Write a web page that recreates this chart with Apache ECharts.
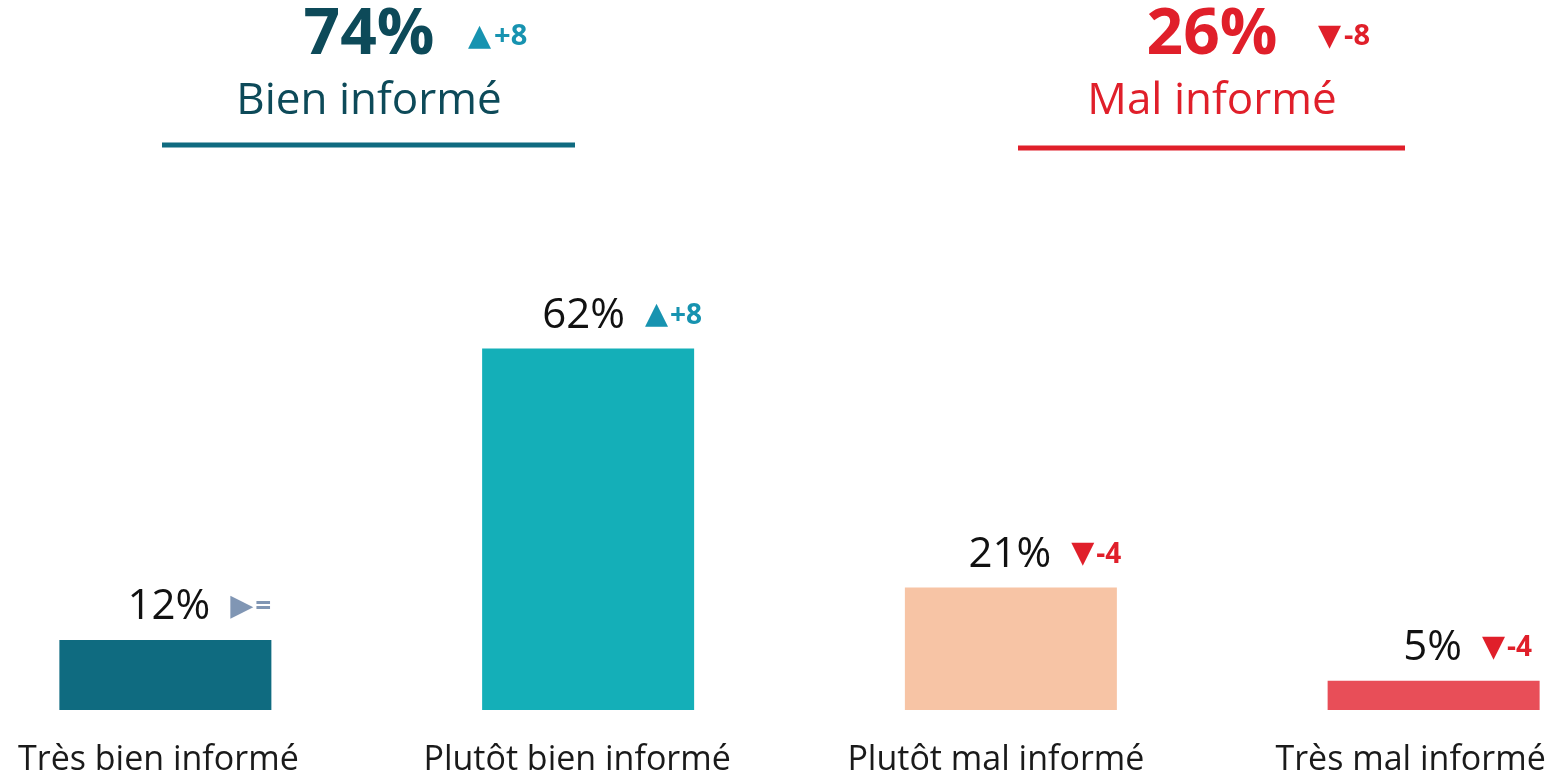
<!DOCTYPE html>
<html>
<head>
<meta charset="utf-8">
<title>Information</title>
<script src="https://cdn.jsdelivr.net/npm/echarts@6/dist/echarts.min.js"></script>
<style>
    html, body { margin: 0; padding: 0; background: #fff; }
    #chart { width: 1559px; height: 775px; }
</style>
</head>
<body>
<div id="chart"></div>
<script>
/* données */
const categories = ['Très bien informé', 'Plutôt bien informé', 'Plutôt mal informé', 'Très mal informé']
const values = [12, 62, 21, 5]
const deltas = ['=', '+8', '-4', '-4']
const barColors = ['#0f6b80', '#14afb8', '#f7c4a5', '#e84e58']

const groupNames = ['Bien informé', 'Mal informé']
const groupTotals = [74, 26]
const groupDeltas = ['+8', '-8']

const FONT = '"Open Sans", "Noto Sans", sans-serif'
// décalage à gauche des libellés d'axe (le dernier est calé sur le bord droit)
const labelShift = [14, 22, 30, 46]

function arrowOf(d) {
    if (d.charAt(0) === '+') return '▲'
    if (d.charAt(0) === '-') return '▼'
    return '▶'
}
function styleOf(d) {
    if (d.charAt(0) === '+') return 'up'
    if (d.charAt(0) === '-') return 'down'
    return 'eq'
}

let chart = echarts.init(document.getElementById('chart'))

// en-têtes (74% Bien informé / 26% Mal informé)
function header(i, cx, dx, color, deltaColor, lineColor, lineX1, lineX2, lineY) {
    return [
        {
            type: 'text', x: cx, y: 36,
            style: { text: groupTotals[i] + '%', font: 'bold 64px ' + FONT, fill: color, align: 'center', verticalAlign: 'middle' }
        },
        {
            type: 'text', x: cx + dx, y: 37,
            style: {
                text: '{a|' + arrowOf(groupDeltas[i]) + '}{d|' + groupDeltas[i] + '}',
                verticalAlign: 'middle',
                rich: {
                    a: { fontSize: 30, fontFamily: 'DejaVu Sans', fill: deltaColor, color: deltaColor, padding: [0, 3, 0, 0] },
                    d: { fontSize: 29, fontWeight: 'bold', fontFamily: FONT, fill: deltaColor, color: deltaColor }
                }
            }
        },
        {
            type: 'text', x: cx, y: 101,
            style: { text: groupNames[i], font: '44px ' + FONT, fill: color, align: 'center', verticalAlign: 'middle' }
        },
        {
            type: 'line',
            shape: { x1: lineX1, y1: lineY, x2: lineX2, y2: lineY },
            style: { stroke: lineColor, lineWidth: 5 }
        }
    ]
}

let option = {
    animation: false,
    grid: { left: -46, right: -86, top: 127, bottom: 65, outerBoundsMode: 'none' },
    xAxis: {
        type: 'category',
        data: categories.map((c, i) => ({ value: c, textStyle: { padding: [0, labelShift[i], 0, 0] } })),
        axisLine: { show: false },
        axisTick: { show: false },
        axisLabel: { fontSize: 34, color: '#1a1a1a', fontFamily: FONT, margin: 33 }
    },
    yAxis: { type: 'value', min: 0, max: 100, show: false },
    series: [{
        type: 'bar',
        barWidth: 212,
        data: values.map((v, i) => ({ value: v, itemStyle: { color: barColors[i] } })),
        label: {
            show: true,
            position: 'top',
            distance: 12,
            offset: [34, 0],
            formatter: p => {
                let d = deltas[p.dataIndex]
                let s = styleOf(d)
                return '{v|' + p.value + '%}{' + s + 'A|' + arrowOf(d) + '}{' + s + '|' + d + '}'
            },
            rich: {
                v: { fontSize: 42, color: '#111', fontFamily: FONT, padding: [0, 20, 0, 0] },
                upA: { fontSize: 30, color: '#1793b0', fontFamily: 'DejaVu Sans', padding: [0, 2, 0, 0] },
                up: { fontSize: 28, color: '#1793b0', fontWeight: 'bold', fontFamily: FONT },
                downA: { fontSize: 30, color: '#e01f2a', fontFamily: 'DejaVu Sans', padding: [0, 2, 0, 0] },
                down: { fontSize: 28, color: '#e01f2a', fontWeight: 'bold', fontFamily: FONT },
                eqA: { fontSize: 30, color: '#8096b4', fontFamily: 'DejaVu Sans', padding: [0, 2, 0, 0] },
                eq: { fontSize: 28, color: '#8096b4', fontWeight: 'bold', fontFamily: FONT }
            }
        }
    }],
    graphic: [].concat(
        header(0, 369, 99, '#0d4a59', '#1793b0', '#0f6b80', 162, 575, 145),
        header(1, 1212, 106, '#e01f2a', '#e01f2a', '#e01f2a', 1018, 1405, 148)
    )
}

chart.setOption(option)

window.onresize = function () {
    chart.resize()
}
</script>
</body>
</html>
